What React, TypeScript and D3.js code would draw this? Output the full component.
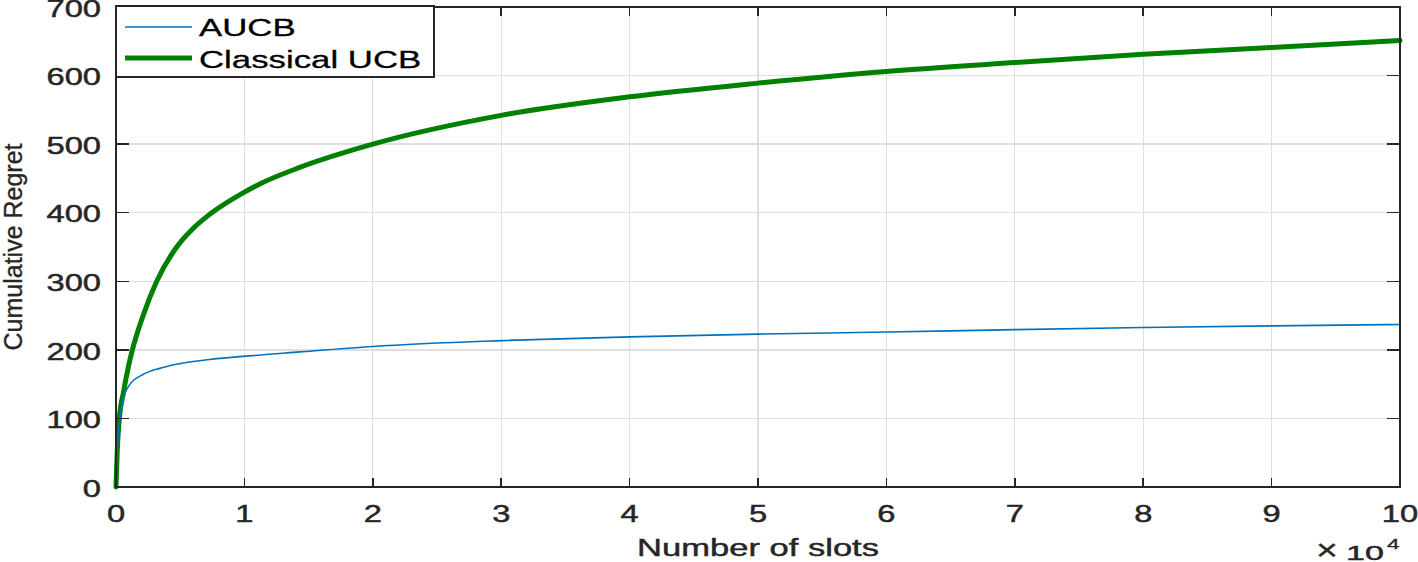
import React from "react";
import * as d3 from "d3";

// x in units of 10^4 slots
const aucbX = [0, 0.01, 0.03, 0.06, 0.11, 0.21, 0.34, 0.47, 0.73, 0.9, 1.43, 2, 3, 4, 5, 6, 7, 8, 9, 10];
const aucbY = [0, 55, 100, 131, 150, 164, 173, 179, 186, 189, 197, 205, 213.5, 219, 223, 226, 229.5, 232.5, 235, 237];

const ucbX = [0, 0.01, 0.026, 0.057, 0.096, 0.122, 0.213, 0.317, 0.473, 0.6, 0.732, 0.99, 1.12, 1.43, 2, 3, 4, 5, 6, 7, 8, 9, 10];
const ucbY = [0, 54, 100, 137, 175, 196, 251, 300, 350, 377, 398, 429, 442, 466, 500, 542, 569, 589, 606, 619, 631, 641, 651];

const xTicks = [0, 1, 2, 3, 4, 5, 6, 7, 8, 9, 10];
const yTicks = [0, 100, 200, 300, 400, 500, 600, 700];
const seriesNames = ["AUCB", "Classical UCB"];

const W = 1418;
const H = 562;
const L = 116, R = 1400, T = 7, B = 487;
const FONT = "'Liberation Sans', Arial, Helvetica, sans-serif";
const SX = 1.42;
const AX = "#262626";
const TW = 0.45; // faux weight stroke

export default function App() {
  const x = d3.scaleLinear().domain([0, 10]).range([L, R]);
  const y = d3.scaleLinear().domain([0, 700]).range([B, T]);
  const line = d3
    .line<[number, number]>()
    .x((d) => x(d[0]))
    .y((d) => y(d[1]))
    .curve(d3.curveMonotoneX);
  const aucb = aucbX.map((v, i) => [v, aucbY[i]] as [number, number]);
  const ucb = ucbX.map((v, i) => [v, ucbY[i]] as [number, number]);

  return (
    <svg
      width={W}
      height={H}
      style={{ position: "absolute", left: 0, top: 0, background: "#fff" }}
      fontFamily={FONT}
    >
      <rect x={0} y={0} width={W} height={H} fill="#fff" />
      {/* grid */}
      <g shapeRendering="crispEdges" stroke="#dfdfdf" strokeWidth={1.3}>
        {xTicks.map((t) => (
          <line key={"gx" + t} x1={x(t)} x2={x(t)} y1={T} y2={B} />
        ))}
        {yTicks.map((t) => (
          <line key={"gy" + t} x1={L} x2={R} y1={y(t)} y2={y(t)} />
        ))}
      </g>
      {/* lines */}
      <path d={line(ucb) || ""} fill="none" stroke="#008000" strokeWidth={5} strokeLinejoin="round" strokeLinecap="round" />
      <path d={line(aucb) || ""} fill="none" stroke="#0072BD" strokeWidth={1.6} strokeLinejoin="round" />
      {/* axes box and ticks */}
      <g shapeRendering="crispEdges" stroke={AX} strokeWidth={1.5} fill="none">
        <rect x={L} y={T} width={R - L} height={B - T} />
        {xTicks.map((t) => (
          <g key={"tx" + t}>
            <line x1={x(t)} x2={x(t)} y1={B} y2={B - 9} />
            <line x1={x(t)} x2={x(t)} y1={T} y2={T + 9} />
          </g>
        ))}
        {yTicks.map((t) => (
          <g key={"ty" + t}>
            <line x1={L} x2={L + 13} y1={y(t)} y2={y(t)} />
            <line x1={R} x2={R - 13} y1={y(t)} y2={y(t)} />
          </g>
        ))}
      </g>
      {/* tick labels */}
      {yTicks.map((t) => (
        <text
          key={"ly" + t}
          transform={`translate(101,${y(t)}) scale(${SX},1)`}
          textAnchor="end"
          dy="0.42em"
          fontSize={23}
          fill={AX}
          stroke={AX}
          strokeWidth={TW}
        >
          {t}
        </text>
      ))}
      {xTicks.map((t) => (
        <text
          key={"lx" + t}
          transform={`translate(${x(t)},521.5) scale(${SX},1)`}
          textAnchor="middle"
          fontSize={23}
          fill={AX}
          stroke={AX}
          strokeWidth={TW}
        >
          {t}
        </text>
      ))}
      {/* axis labels */}
      <text
        transform={`translate(${(L + R) / 2},556) scale(1.44,1)`}
        textAnchor="middle"
        fontSize={24}
        fill={AX}
        stroke={AX}
        strokeWidth={TW}
      >
        Number of slots
      </text>
      <text
        transform={`translate(22,${(T + B) / 2}) rotate(-90)`}
        textAnchor="middle"
        fontSize={25}
        fill={AX}
        stroke={AX}
        strokeWidth={0.3}
      >
        Cumulative Regret
      </text>
      <text transform={`translate(1316,560) scale(1.25,1)`} fontSize={30} fill={AX} stroke={AX} strokeWidth={0.3}>
        ×
      </text>
      <text transform={`translate(1346,559.5) scale(1.62,1)`} fontSize={21} fill={AX} stroke={AX} strokeWidth={TW}>
        10
      </text>
      <text transform={`translate(1387,549) scale(1.5,1)`} fontSize={15} fill={AX} stroke={AX} strokeWidth={0.3}>
        4
      </text>
      {/* legend */}
      <g>
        <rect x={L} y={6} width={434 - L} height={71} fill="#fff" stroke={AX} strokeWidth={1.5} shapeRendering="crispEdges" />
        <line x1={125} x2={192} y1={27} y2={27} stroke="#0072BD" strokeWidth={1.6} />
        <line x1={125} x2={192} y1={58} y2={58} stroke="#008000" strokeWidth={5} />
        <text transform={`translate(199,36) scale(${SX},1)`} fontSize={24.5} fill="#000" stroke="#000" strokeWidth={0.3}>
          {seriesNames[0]}
        </text>
        <text transform={`translate(199,68) scale(${SX},1)`} fontSize={24.5} fill="#000" stroke="#000" strokeWidth={0.3}>
          {seriesNames[1]}
        </text>
      </g>
    </svg>
  );
}
